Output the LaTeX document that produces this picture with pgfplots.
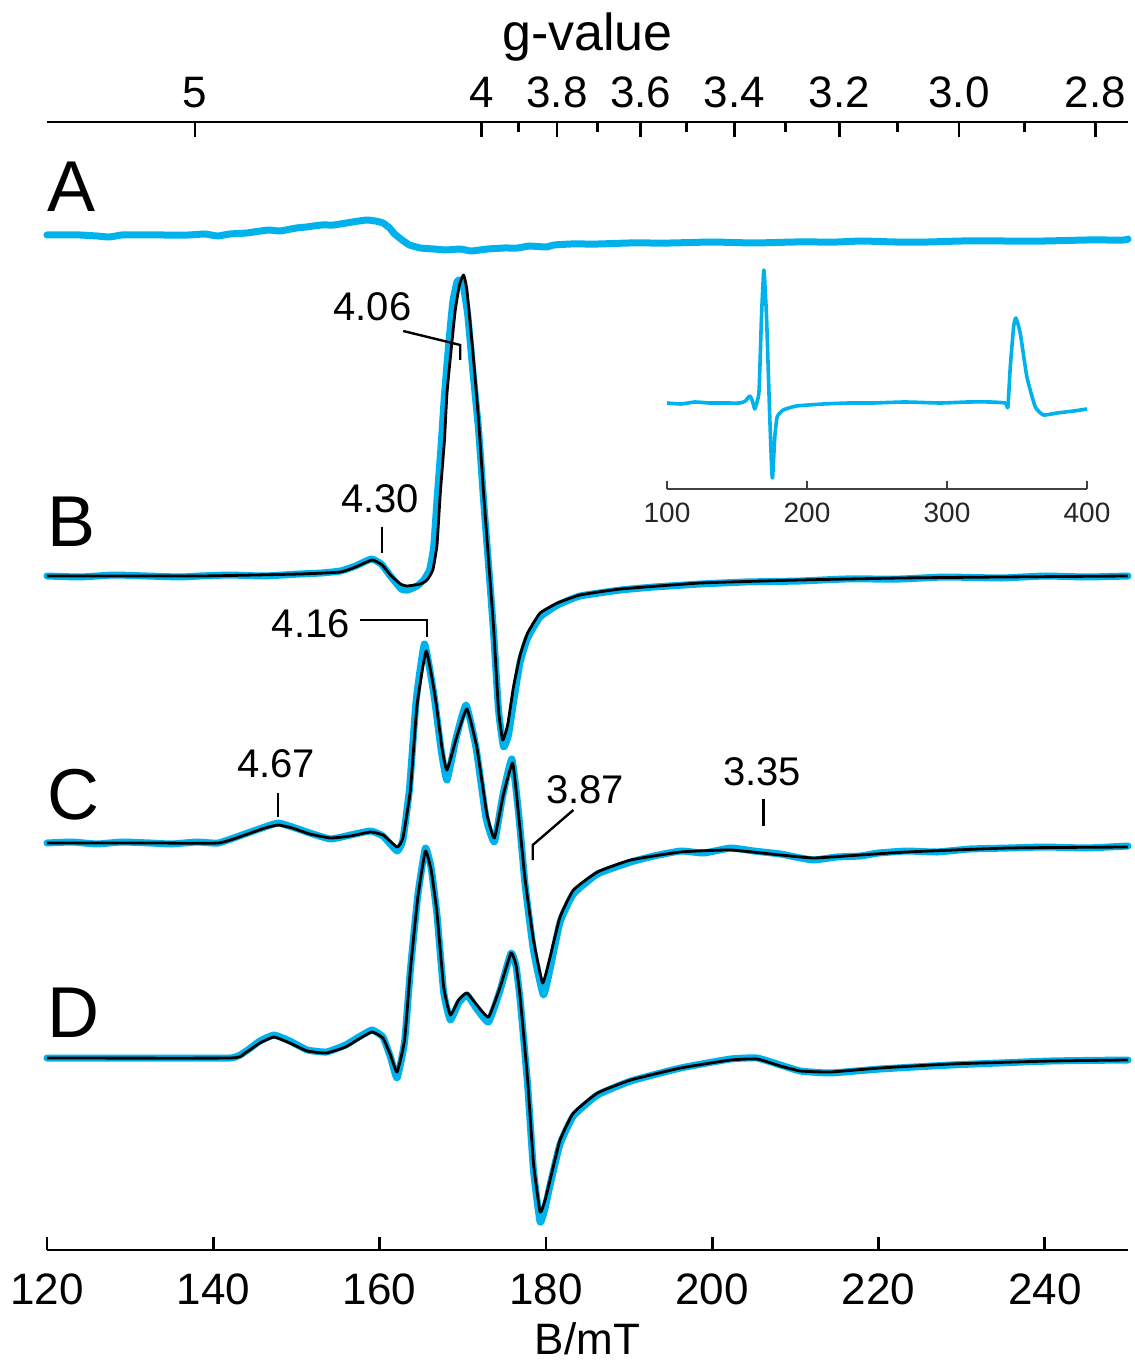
\documentclass[border=0pt]{standalone}
\usepackage{fontspec}
\setmainfont{Liberation Sans}
\usepackage{pgfplots}
\pgfplotsset{compat=1.18}
\definecolor{eprblue}{RGB}{0,178,236}

\pgfplotsset{
  spec/.style={eprblue, line width=1.75pt, line join=round, line cap=round, smooth, tension=0.25},
  fit/.style={black, line width=0.7pt, line join=round, smooth, tension=0.25},
  frame/.style={
    at={(11.75pt,28.25pt)}, anchor=south west,
    scale only axis, width=270.25pt, height=282pt,
    xmin=120, xmax=250, ymin=0, ymax=1128,
    axis y line=none, ytick=\empty,
    axis line style={line width=0.7pt},
    tick align=inside,
    tick style={line width=0.7pt, black},
    ticklabel style={font=\fontsize{11}{13}\selectfont},
  },
}
\newcommand\ann{\fontsize{10}{12}\selectfont}
\newcommand\pan{\fontsize{18}{20}\selectfont}

\begin{document}
\begin{tikzpicture}
\useasboundingbox (0pt,0pt) rectangle (283.75pt,340.75pt);

% top axis: g-value
\begin{axis}[frame,
  axis x line*=top,
  xtick={137.80,172.25,181.32,191.39,202.65,215.31,229.67,246.07},
  xticklabels={5,4,3.8,3.6,3.4,3.2,3.0,2.8},
  minor xtick={176.67,186.22,196.86,208.79,222.26,237.59},
  major tick length=3.75pt, minor tick length=2.5pt,
  xlabel={g-value},
  xlabel style={font=\fontsize{13}{15}\selectfont, yshift=-3pt},
]
\end{axis}

% bottom axis: field, four spectra
\begin{axis}[frame,
  axis x line*=bottom,
  xtick={120,140,...,240},
  major tick length=3.3pt,
  xticklabel style={yshift=-2.5pt},
  xlabel={B/mT},
  xlabel style={font=\fontsize{11}{13}\selectfont,
    at={(axis description cs:0.5,0)}, anchor=base, yshift=-26pt},
  /pgf/number format/assume math mode=true,
  clip=false,
]
% A
\addplot[spec] coordinates {
 (120,1015) (122,1015) (124,1015) (126,1014) (127.5,1013) (129,1015) (131,1015)
 (134,1015) (137,1015) (139,1016) (140.5,1014) (142,1016) (144,1017) (146.6,1020)
 (148,1019) (150,1022) (151.2,1023) (153,1025) (154.5,1025) (156,1027) (157.5,1029)
 (158.5,1030) (159.5,1029) (160.4,1027) (161.2,1022) (161.8,1016) (162.7,1010)
 (163.6,1005) (164.9,1002) (166.5,1001) (168,1000) (169.7,1001) (171,999) (173,1001)
 (175,1002) (176.6,1002) (178,1004) (180,1003) (181,1005) (183,1006) (186.3,1006)
 (190,1007) (195,1007) (200,1008) (205,1007) (210,1008) (215,1008) (218,1009)
 (222,1008) (226,1008) (230,1009) (235,1009) (240,1009) (245,1010) (249.5,1010) (250,1011)
};
% B
\addplot[spec] coordinates {
 (120,674) (124,673) (128,675) (132,674) (136,673) (138.4,674) (142,675) (146,674)
 (150.4,676) (153,677) (155.3,679) (157.1,684) (159,691) (160.2,686) (161.3,674)
 (162.6,661) (163.4,660) (164.5,664) (165.3,670) (166.0,680) (166.5,703) (166.9,750)
 (167.4,805) (167.8,855) (168.3,905) (168.8,948) (169.3,968) (169.6,970) (170.1,962)
 (170.6,935) (171.2,880) (171.9,820) (172.5,750) (173.1,685) (173.7,618) (174.3,540)
 (174.9,503) (175.5,515) (176.2,553) (176.9,588) (177.8,612) (179.3,633) (181.4,645)
 (184.1,654) (189,660) (193,663) (198.6,666) (204,668) (210.6,669) (216,671)
 (222.6,671) (228,673) (234.7,672) (240,674) (245,673) (250,674)
};
\addplot[fit] coordinates {
 (120,674) (138.4,674) (150.4,676) (155.3,678) (157.1,683) (159.1,690) (160.3,685)
 (161.3,675) (162.5,666) (163.3,664) (164.9,666) (165.7,670) (166.4,680) (166.9,705)
 (167.3,757) (167.8,810) (168.1,857) (168.6,900) (169.1,940) (169.6,965) (170.1,975)
 (170.5,960) (171.3,890) (171.9,830) (172.5,757) (173.1,690) (173.7,623) (174.3,540)
 (174.8,510) (175.4,525) (176.1,563) (176.9,595) (177.8,617) (179.3,637) (181.4,647)
 (184.1,655) (189.0,661) (198.6,667) (210.6,670) (222.6,672) (234.7,673) (250,674)
};
% C
\addplot[spec] coordinates {
 (120,407) (123,408) (126,406) (129,408) (132.4,407) (135,406) (138,408) (140.6,407)
 (143.8,416) (146.2,423) (147.8,427) (149.5,423) (151.6,417) (154.1,411) (156.5,415)
 (158.9,419) (160.4,414) (162.1,399) (162.8,410) (163.6,462) (164.4,550) (165.4,606)
 (166.5,557) (167.4,500) (168.1,470) (169.2,512) (170.4,545) (171.6,502) (172.8,432)
 (173.8,408) (174.8,454) (175.9,491) (176.7,438) (177.5,365) (178.5,300) (179.7,255)
 (180.6,285) (181.7,328) (183.3,356) (186.2,376) (190.2,388) (193,394) (196.2,399)
 (199,397) (202.2,402) (205,399) (208.2,396) (210,393) (212.2,390) (215,393)
 (217.8,394) (220,397) (223.4,399) (227,398) (231,401) (235.6,402) (240,403)
 (245,402) (250,404)
};
\addplot[fit] coordinates {
 (120,407) (132.4,407) (140.6,407) (143.8,415) (146.2,422) (147.8,425) (149.5,422)
 (151.6,416) (154.1,412) (156.5,414) (158.9,418) (160.4,415) (162.1,403) (162.8,412)
 (163.7,460) (164.5,545) (165.6,599) (166.7,552) (167.5,502) (168.1,480) (169.3,514)
 (170.5,541) (171.7,502) (172.9,436) (173.8,412) (174.9,456) (176.0,487) (176.7,436)
 (177.5,370) (178.5,310) (179.6,267) (180.5,293) (181.7,333) (183.3,360) (186.2,378)
 (190.2,390) (196.2,398) (202.2,400) (208.2,395) (212.2,392) (217.8,395) (223.4,398)
 (235.6,402) (250,403)
};
% D
\addplot[spec] coordinates {
 (120,192) (130,192) (142,192) (143.8,198) (145.6,209) (147.3,215) (149.2,209)
 (151.3,200) (153.6,198) (155.9,205) (157.7,214) (159.1,220) (160.4,213) (161.3,193)
 (162.1,172) (163.0,208) (163.7,280) (164.6,355) (165.5,402) (166.2,382) (166.9,335)
 (167.7,258) (168.5,230) (169.5,247) (170.5,255) (171.7,241) (173.1,228) (174.5,260)
 (175.8,297) (176.4,284) (176.9,250) (177.8,165) (178.5,80) (179.3,28) (179.9,42)
 (180.5,65) (181.7,106) (183.3,134) (186.2,155) (190.2,169) (196.2,182) (202.2,191)
 (205.4,192) (208.2,185) (210.6,179) (214.2,177) (220.2,181) (228.7,185) (240.7,189) (250,190)
};
\addplot[fit] coordinates {
 (120,192) (142,192) (143.8,197) (145.6,207) (147.3,213) (149.2,207) (151.3,199)
 (153.6,197) (155.9,203) (157.7,212) (159.1,218) (160.4,212) (161.3,195) (162.1,178)
 (163.0,210) (163.7,280) (164.6,353) (165.5,399) (166.2,380) (166.9,337) (167.7,263)
 (168.5,235) (169.5,250) (170.5,257) (171.7,245) (173.1,233) (174.5,263) (175.8,297)
 (176.4,285) (176.9,253) (177.8,170) (178.5,87) (179.3,38) (179.9,50) (180.5,70)
 (181.7,110) (183.3,137) (186.2,157) (190.2,170) (196.2,182) (202.2,190) (205.4,191)
 (208.2,184) (210.6,179) (214.2,178) (220.2,182) (228.7,186) (240.7,189) (250,190)
};

% panel letters
\node[anchor=base west, inner sep=0, font=\pan] at (axis cs:120,1038) {A};
\node[anchor=base west, inner sep=0, font=\pan] at (axis cs:120,703) {B};
\node[anchor=base west, inner sep=0, font=\pan] at (axis cs:120,431) {C};
\node[anchor=base west, inner sep=0, font=\pan] at (axis cs:120,213) {D};

% g-value marks
\draw[line width=0.6pt] (axis cs:162.84,919) -- (axis cs:169.70,905) -- (axis cs:169.70,890);
\node[anchor=base east, inner sep=0, font=\ann] at (axis cs:163.92,930) {4.06};
\draw[line width=0.6pt] (axis cs:160.3,723) -- (axis cs:160.3,697);
\node[anchor=base, inner sep=0, font=\ann] at (axis cs:160.07,737) {4.30};
\draw[line width=0.6pt] (axis cs:157.67,630) -- (axis cs:165.73,630) -- (axis cs:165.73,613);
\node[anchor=base east, inner sep=0, font=\ann] at (axis cs:156.5,613) {4.16};
\draw[line width=0.6pt] (axis cs:147.8,457) -- (axis cs:147.8,433);
\node[anchor=base, inner sep=0, font=\ann] at (axis cs:147.56,472) {4.67};
\draw[line width=0.6pt] (axis cs:183.30,440) -- (axis cs:178.42,405) -- (axis cs:178.42,390);
\node[anchor=base, inner sep=0, font=\ann] at (axis cs:184.7,447) {3.87};
\draw[line width=0.6pt] (axis cs:206.16,451) -- (axis cs:206.16,424);
\node[anchor=base, inner sep=0, font=\ann] at (axis cs:206.0,465) {3.35};
\end{axis}

% inset: wide sweep
\begin{axis}[
  at={(166.75pt,218.5pt)}, anchor=south west,
  scale only axis, width=105pt, height=56pt,
  xmin=100, xmax=400, ymin=0, ymax=224,
  axis x line*=bottom, axis y line=none, ytick=\empty,
  axis line style={line width=0.5pt, black!75},
  xtick={100,200,300,400},
  tick align=inside, major tick length=2pt,
  tick style={line width=0.5pt, black!75},
  ticklabel style={font=\fontsize{7}{8}\selectfont, text=black!85},
  /pgf/number format/assume math mode=true,
  clip=false,
]
\addplot[eprblue, line width=0.9pt, line join=round, smooth, tension=0.3] coordinates {
 (100,86) (110,85) (120,87) (130,86) (140,86) (152,86) (156,88) (159.1,93) (161,88)
 (162.7,80) (164.5,88) (165.8,99) (167.5,172) (169.2,219) (171.1,172) (173.0,89)
 (174.6,26) (175.4,11) (177.0,52) (178.7,72) (183,79) (192.5,83) (211.6,85) (230,86)
 (247.4,86) (270,87) (295,86) (315,87) (330.9,87) (341.6,86) (343.5,82) (345.2,122)
 (347.6,162) (349.2,171) (352.3,156) (357.1,112) (363.1,82) (369.0,74) (378.6,76)
 (390.5,78) (400,80)
};
\end{axis}
\end{tikzpicture}
\end{document}
